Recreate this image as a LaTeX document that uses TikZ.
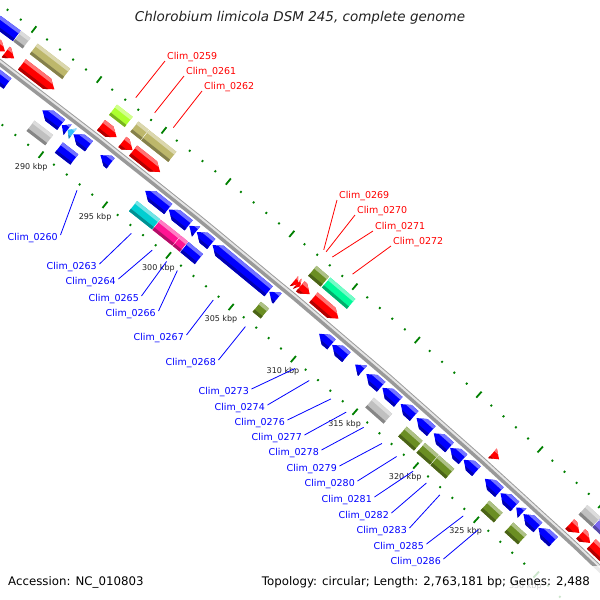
\documentclass[tikz,border=0pt]{standalone}
\usepackage{fontspec}
\setmainfont{DejaVu Sans}
\usetikzlibrary{calc}
\definecolor{cRed}{HTML}{FF0000}
\definecolor{cBlue}{HTML}{0000FF}
\definecolor{cCyan}{HTML}{00CED1}
\definecolor{cSky}{HTML}{33BBFF}
\definecolor{cPink}{HTML}{FF1493}
\definecolor{cTan}{HTML}{BDB76B}
\definecolor{cLime}{HTML}{ADFF2F}
\definecolor{cOlive}{HTML}{6B8E23}
\definecolor{cSpring}{HTML}{00FA9A}
\definecolor{cGray}{HTML}{C0C0C0}
\definecolor{cSlate}{HTML}{7B68EE}
\definecolor{cTick}{HTML}{008000}
\definecolor{cBack}{HTML}{999999}
\definecolor{cTxt}{HTML}{222222}
% feature: b1 b2 d1 d2 colour kind(0 box,1 fwd,2 rev)
\newcommand\feat[6]{%
 \pgfmathsetmacro\fA{((#1)-290)*0.130285-52.29}%
 \pgfmathsetmacro\fB{((#2)-290)*0.130285-52.29}%
 \pgfmathsetmacro\hA{min(0.55,(#2)-(#1))*0.130285}%
 \pgfmathsetmacro\rI{7188+(#3)}%
 \pgfmathsetmacro\rO{7188+(#4)}%
 \pgfmathsetmacro\rM{7188+((#3)+(#4))/2}%
 \pgfmathsetmacro\rL{7188+(#4)-3.5}%
 \pgfmathsetmacro\rD{7188+(#3)+3}%
 \pgfmathsetmacro\rOx{7188+(#4)+1}%
 \pgfmathsetmacro\rIx{7188+(#3)-1}%
 \pgfmathsetmacro\fAx{\fA-0.02}%
 \pgfmathsetmacro\fBx{\fB+0.02}%
 \ifnum#6=0 \def\fshape{(\fA:\rI) -- (\fA:\rO) -- (\fB:\rO) -- (\fB:\rI) -- cycle}\fi
 \ifnum#6=1 \pgfmathsetmacro\fH{\fB-\hA}\def\fshape{(\fA:\rI) -- (\fA:\rO) -- (\fH:\rO) -- (\fB:\rM) -- (\fH:\rI) -- cycle}\fi
 \ifnum#6=2 \pgfmathsetmacro\fH{\fA+\hA}\def\fshape{(\fA:\rM) -- (\fH:\rO) -- (\fB:\rO) -- (\fB:\rI) -- (\fH:\rI) -- cycle}\fi
 \begin{scope}
  \expandafter\clip\fshape;
  \fill[#5] (\fAx:\rIx) -- (\fAx:\rOx) -- (\fBx:\rOx) -- (\fBx:\rIx) -- cycle;
  \fill[#5!55!white] (\fAx:\rL) -- (\fAx:\rOx) -- (\fBx:\rOx) -- (\fBx:\rL) -- cycle;
  \fill[#5!70!black] (\fAx:\rIx) -- (\fAx:\rD) -- (\fBx:\rD) -- (\fBx:\rIx) -- cycle;
 \end{scope}}
\newcommand\gc[3]{\coordinate (#1) at ({((#2)-290)*0.130285-52.29}:{7188+(#3)});}
\newcommand\OA{25}\newcommand\OB{38}
\newcommand\OC{5.5}\newcommand\OD{18.5}
\newcommand\IA{-18.5}\newcommand\IB{-5.5}
\newcommand\IC{-38}\newcommand\ID{-25}
\begin{document}
\begin{tikzpicture}[x=1pt,y=-1pt,
  lb/.style={anchor=east,inner sep=0pt,text=cBlue,font=\fontsize{9.5}{11}\selectfont},
  lr/.style={anchor=west,inner sep=0pt,text=cRed,font=\fontsize{9.5}{11}\selectfont},
  lnb/.style={draw=cBlue,line width=0.8pt},
  lnr/.style={draw=cRed,line width=0.8pt},
  ticklab/.style={inner sep=0pt,text=cTxt,font=\fontsize{8}{9}\selectfont},
  tck/.style={draw=cTick,line width=1.8pt}]
\useasboundingbox (0,0) rectangle (600,600);
\fill[white] (0,0) rectangle (600,600);
\begin{scope}
\clip (0,0) rectangle (600,600);
\begin{scope}[shift={(-4326,5803)}]
 % backbone
 \draw[cBack,line width=6.5pt] plot[domain=-54.6:-45.8,samples=45] (\x:7188);
 \draw[white!75!cBack,line width=2pt] plot[domain=-54.6:-45.8,samples=45] (\x:7189.3);
 % ruler ticks
 \foreach \k in {278,...,341}{%
   \pgfmathsetmacro\ta{(\k-290)*0.130285-52.29}%
   \pgfmathtruncatemacro\tm{mod(\k,5)}%
   \ifnum\tm=0
     \draw[tck] (\ta:7231) -- (\ta:7239);
     \draw[tck] (\ta:7136) -- (\ta:7144);
   \else
     \draw[tck] (\ta:7234) -- (\ta:7236);
     \draw[tck] (\ta:7139) -- (\ta:7141);
   \fi}
 \foreach \k in {290,295,...,330}{%
   \pgfmathsetmacro\ta{(\k-290)*0.130285-52.29}%
   \node[ticklab] at (\ta:7124) {\k\ kbp};}
 % outer features
 \feat{279}{282.85}{\OA}{\OB}{cCyan}{0}
 \feat{282.9}{284.4}{\OA}{\OB}{cBlue}{0}
 \feat{284.45}{285.15}{\OA}{\OB}{cGray}{0}
 \feat{282.5}{284.4}{\OC}{\OD}{cRed}{1}
 \feat{284.45}{285.1}{\OC}{\OD}{cRed}{1}
 \feat{285.7}{288.2}{\OC}{\OD}{cRed}{1}
 \feat{285.7}{288.2}{\OA}{\OB}{cTan}{0}
 \feat{291.8}{293.0}{\OC}{\OD}{cRed}{1}
 \feat{291.8}{293.0}{\OA}{\OB}{cLime}{0}
 \feat{293.45}{294.25}{\OC}{\OD}{cRed}{1}
 \feat{293.45}{294.25}{\OA}{\OB}{cTan}{0}
 \feat{294.3}{296.4}{\OC}{\OD}{cRed}{1}
 \feat{294.3}{296.4}{\OA}{\OB}{cTan}{0}
 \feat{306.95}{307.25}{\OC}{\OD}{cRed}{1}
 \feat{307.2}{307.45}{\OC}{\OD}{cRed}{1}
 \feat{307.45}{308.2}{\OC}{\OD}{cRed}{1}
 \feat{307.4}{308.4}{\OA}{\OB}{cOlive}{0}
 \feat{308.5}{310.5}{\OC}{\OD}{cRed}{1}
 \feat{308.5}{310.5}{\OA}{\OB}{cSpring}{0}
 \feat{323.0}{323.55}{\OC}{\OD}{cRed}{1}
 \feat{329.4}{330.2}{\OC}{\OD}{cRed}{1}
 \feat{330.3}{331.1}{\OC}{\OD}{cRed}{1}
 \feat{331.2}{333}{\OC}{\OD}{cRed}{1}
 \feat{329.4}{330.5}{\OA}{\OB}{cGray}{0}
 \feat{330.55}{333}{\OA}{\OB}{cSlate}{0}
 % inner features
 \feat{283.5}{285.7}{\IA}{\IB}{cBlue}{2}
 \feat{288.4}{289.85}{\IA}{\IB}{cBlue}{2}
 \feat{288.4}{289.85}{\IC}{\ID}{cGray}{0}
 \feat{289.9}{290.35}{\IA}{\IB}{cBlue}{2}
 \feat{290.35}{290.75}{\IA}{\IB}{cSky}{2}
 \feat{290.8}{292.0}{\IA}{\IB}{cBlue}{2}
 \feat{290.6}{291.8}{\IC}{\ID}{cBlue}{0}
 \feat{292.9}{293.7}{\IA}{\IB}{cBlue}{2}
 \feat{296.4}{298.2}{\IA}{\IB}{cBlue}{2}
 \feat{296.4}{298.2}{\IC}{\ID}{cCyan}{0}
 \feat{298.25}{299.8}{\IA}{\IB}{cBlue}{2}
 \feat{298.25}{299.8}{\IC}{\ID}{cPink}{0}
 \feat{299.85}{300.4}{\IA}{\IB}{cBlue}{2}
 \feat{299.85}{300.4}{\IC}{\ID}{cPink}{0}
 \feat{300.45}{301.6}{\IA}{\IB}{cBlue}{2}
 \feat{300.45}{301.6}{\IC}{\ID}{cBlue}{0}
 \feat{301.7}{306.15}{\IA}{\IB}{cBlue}{2}
 \feat{306.2}{306.85}{\IA}{\IB}{cBlue}{2}
 \feat{306.2}{306.85}{\IC}{\ID}{cOlive}{0}
 \feat{310.2}{311.2}{\IA}{\IB}{cBlue}{2}
 \feat{311.25}{312.4}{\IA}{\IB}{cBlue}{2}
 \feat{313.1}{313.7}{\IA}{\IB}{cBlue}{2}
 \feat{314.0}{315.2}{\IA}{\IB}{cBlue}{2}
 \feat{315.3}{316.6}{\IA}{\IB}{cBlue}{2}
 \feat{315.3}{316.8}{\IC}{\ID}{cGray}{0}
 \feat{316.8}{317.9}{\IA}{\IB}{cBlue}{2}
 \feat{318.1}{319.3}{\IA}{\IB}{cBlue}{2}
 \feat{318.0}{319.3}{\IC}{\ID}{cOlive}{0}
 \feat{319.5}{320.8}{\IA}{\IB}{cBlue}{2}
 \feat{319.5}{320.6}{\IC}{\ID}{cOlive}{0}
 \feat{320.85}{321.9}{\IA}{\IB}{cBlue}{2}
 \feat{320.65}{321.9}{\IC}{\ID}{cOlive}{0}
 \feat{321.95}{323.0}{\IA}{\IB}{cBlue}{2}
 \feat{323.7}{324.9}{\IA}{\IB}{cBlue}{2}
 \feat{325.0}{326.2}{\IA}{\IB}{cBlue}{2}
 \feat{324.8}{325.9}{\IC}{\ID}{cOlive}{0}
 \feat{326.3}{326.8}{\IA}{\IB}{cBlue}{2}
 \feat{326.9}{328.1}{\IA}{\IB}{cBlue}{2}
 \feat{326.8}{327.9}{\IC}{\ID}{cOlive}{0}
 \feat{328.15}{329.4}{\IA}{\IB}{cBlue}{2}
 % label anchor points on features
 \gc{g0260}{293.1}{-54}
 \gc{g0263}{297.37}{-54}
 \gc{g0264}{299.02}{-54}
 \gc{g0265}{300.15}{-54}
 \gc{g0266}{301.02}{-54}
 \gc{g0267}{303.88}{-54}
 \gc{g0268}{306.45}{-54}
 \gc{g0273}{310.45}{-54}
 \gc{g0274}{311.6}{-54}
 \gc{g0276}{313.35}{-54}
 \gc{g0277}{314.6}{-54}
 \gc{g0278}{316.03}{-54}
 \gc{g0279}{317.53}{-54}
 \gc{g0280}{318.74}{-54}
 \gc{g0281}{320.1}{-54}
 \gc{g0282}{321.2}{-54}
 \gc{g0283}{322.3}{-54}
 \gc{g0285}{324.24}{-54}
 \gc{g0286}{325.5}{-54}
 \gc{g0259}{292.43}{55}
 \gc{g0261}{293.9}{55}
 \gc{g0262}{295.35}{55}
 \gc{g0269}{307.12}{55}
 \gc{g0270}{307.3}{55}
 \gc{g0271}{307.8}{55}
 \gc{g0272}{309.4}{55}
\end{scope}
\end{scope}
% labels
\foreach \n/\x/\y in {0260/58/238,0263/97/267,0264/116/282,0265/139/299,0266/156/314,0267/184/338,0268/216/363,0273/249/392,0274/265/408,0276/285/423,0277/302/438,0278/319/453,0279/337/469,0280/355/484,0281/372/500,0282/389/516,0283/407/531,0285/424/547,0286/441/562}{%
  \node[lb] (l\n) at (\x,\y) {Clim\_\n};
  \draw[lnb] (g\n) -- ([shift={(2.5pt,3pt)}]l\n.east);}
\foreach \n/\x/\y in {0259/167/57,0261/186/72,0262/204/87,0269/339/196,0270/357/211,0271/375/227,0272/393/242}{%
  \node[lr] (l\n) at (\x,\y) {Clim\_\n};
  \draw[lnr] (g\n) -- ([shift={(-2pt,-4pt)}]l\n.west);}
% title and legend
\node[text=cTxt,font=\fontsize{13.5}{15}\selectfont\itshape] (title) at (300,18) {Chlorobium limicola DSM 245, complete genome};
\fill[white,opacity=0.8] (0,566) rectangle (600,600);
\node[anchor=west,inner sep=0pt,text=black,font=\fontsize{11.8}{13}\selectfont] (acc) at (8,582) {Accession: NC\_010803};
\node[anchor=east,inner sep=0pt,text=black,font=\fontsize{11.8}{13}\selectfont] (topo) at (590,582) {Topology: circular; Length: 2,763,181 bp; Genes: 2,488};
\end{tikzpicture}
\end{document}
